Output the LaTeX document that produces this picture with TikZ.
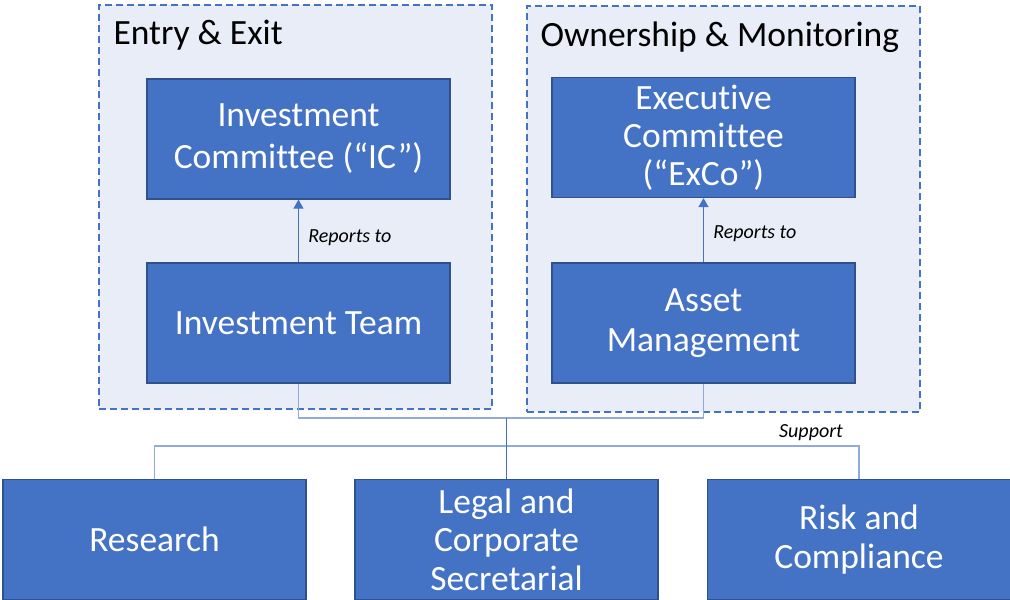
\documentclass[tikz,border=0pt]{standalone}
\usepackage{fontspec}
\setmainfont{Carlito}[Ligatures=NoCommon]
\usetikzlibrary{positioning,arrows.meta}
\definecolor{boxblue}{HTML}{4472C4}
\definecolor{boxedge}{HTML}{2F528F}
\definecolor{groupfill}{HTML}{E9EDF7}
\definecolor{linkblue}{HTML}{8FAADC}
\begin{document}
\begin{tikzpicture}[x=1pt,y=-1pt,
unit/.style={
% The shape:
rectangle,
draw=boxedge,
line width=1.2pt,
fill=boxblue,
minimum width=303pt,
minimum height=120pt,
text=white,
align=center,
font=\fontsize{35.5}{39.5}\selectfont
},
group/.style={
rectangle,draw=boxblue,fill=groupfill,
dash pattern=on 7pt off 4pt,line width=1.6pt,
minimum width=393pt,minimum height=404pt
},
title/.style={anchor=west,font=\fontsize{35.5}{39.5}\selectfont},
reports/.style={draw=boxblue,line width=0.9pt,-{Triangle[width=10pt,length=9pt]}},
support/.style={draw=linkblue,line width=1.2pt},
note/.style={font=\fontsize{20}{24}\selectfont\itshape}
]
\useasboundingbox (0,0) rectangle (1010,600);
% Groups:
\node (entry) [group] at (295.5,207) {};
\node (own) [group,minimum height=406pt] at (723.5,209) {};
\node (entrytitle) [title] at (110,35) {Entry \& Exit};
\node (owntitle) [title] at (537,37) {Ownership \& Monitoring};
% Units:
\node (ic) [unit,font=\fontsize{35.5}{42}\selectfont] at (298.5,139) {Investment\\Committee (“IC”)};
\node (invteam) [unit] at (298.5,323) {Investment Team};
\node (exco) [unit,font=\fontsize{35.5}{38}\selectfont] at (703.5,137.5) {Executive\\Committee\\(“ExCo”)};
\node (asset) [unit] at (703.5,323) {Asset\\Management};
% Support row:
\node (research) [unit] at (154.5,539.5) {Research};
\node (legal) [unit,font=\fontsize{35.5}{38.5}\selectfont] at (506.5,539.5) {Legal and\\Corporate\\Secretarial};
\node (risk) [unit] at (859,539.5) {Risk and\\Compliance};
\path (invteam) edge[reports] node[note,right=6pt,pos=0.4] {Reports to} (ic)
(asset) edge[reports] node[note,right=6pt,pos=0.45] {Reports to} (exco);
\coordinate (join) at (506.5,418);
\coordinate (bar) at (506.5,446);
\draw[support] (invteam.south) |- (join) -| (asset.south);
\draw[support] (research.north) |- (bar) -| (risk.north);
\draw[draw=boxblue,line width=0.8pt] (join) -- (legal.north);
\node (supportlabel) [note] at (811,433) {Support};
\end{tikzpicture}
\end{document}
